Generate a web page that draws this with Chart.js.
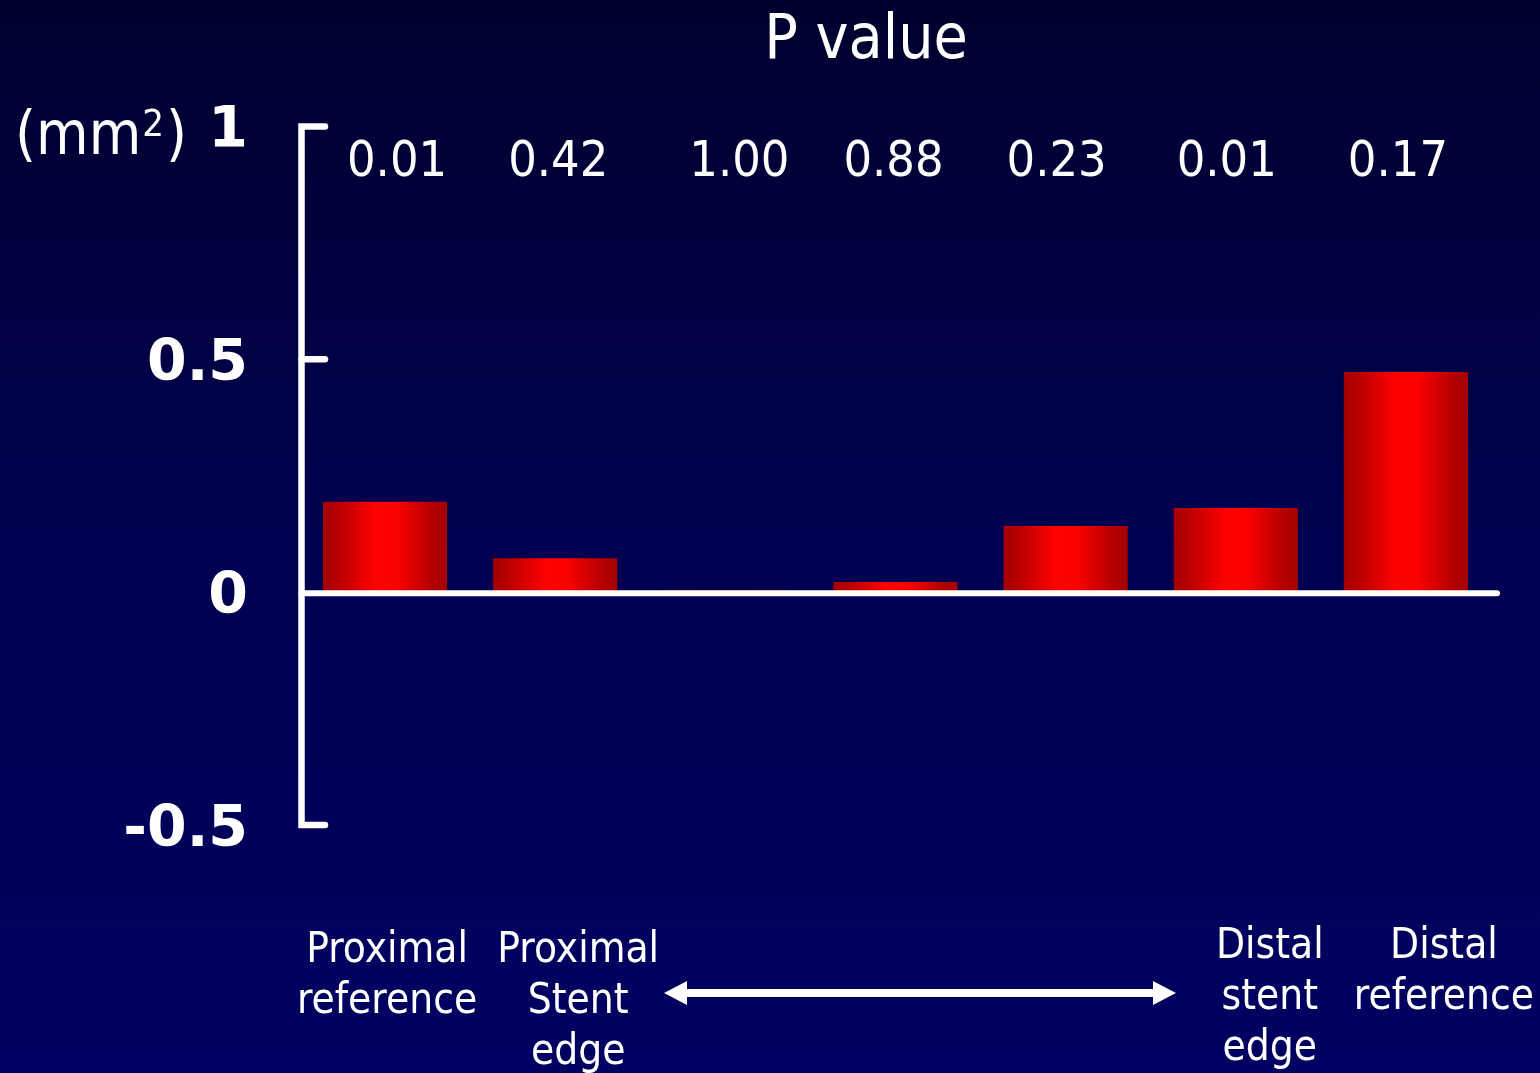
<!DOCTYPE html>
<html>
<head>
<meta charset="utf-8">
<title>Change in area by segment</title>
<script src="https://cdn.jsdelivr.net/npm/chart.js@4.4.1/dist/chart.umd.min.js"></script>
<style>
  html, body { margin: 0; padding: 0; background: #000040; }
  #wrap { width: 1540px; height: 1073px; position: relative; }
</style>
</head>
<body>
<div id="wrap"><canvas id="chart" width="1540" height="1073"></canvas></div>
<script>
// Segments along the vessel
const categories = [
  ['Proximal', 'reference'],
  ['Proximal', 'Stent', 'edge'],
  [],
  [],
  [],
  ['Distal', 'stent', 'edge'],
  ['Distal', 'reference']
];
// Change in area (mm²) per segment
const areaChange = [0.194, 0.073, 0.004, 0.022, 0.142, 0.181, 0.473];
// P value shown above each segment
const pValues = ['0.01', '0.42', '1.00', '0.88', '0.23', '0.01', '0.17'];
// Y axis ticks
const yTicks = [-0.5, 0, 0.5, 1];

// Layout tweaks (horizontal nudges of the text relative to the category centre)
const pValueNudge = [12, 3, 14, -2, -9, -9, -8];
const labelNudge = [2, 23, 0, 0, 0, 34, 38];

const SANS = "'DejaVu Sans Condensed', 'DejaVu Sans', sans-serif";
const BOLD = "'DejaVu Sans', Verdana, sans-serif";
const BAR_FRACTION = 0.73;

function barGradient(ctx) {
  const chart = ctx.chart;
  const xs = chart.scales && chart.scales.x;
  if (ctx.type !== 'data' || !xs || !xs.width) return '#e00000';
  const cx = xs.getPixelForValue(ctx.dataIndex);
  const half = (xs.width / categories.length) * BAR_FRACTION / 2;
  const g = chart.ctx.createLinearGradient(cx - half, 0, cx + half, 0);
  g.addColorStop(0, '#a40000');
  g.addColorStop(0.12, '#b80000');
  g.addColorStop(0.42, '#ff0000');
  g.addColorStop(0.6, '#fa0000');
  g.addColorStop(0.88, '#b40000');
  g.addColorStop(1, '#a40000');
  return g;
}

const decorations = {
  id: 'decorations',
  beforeDraw(chart) {
    const { ctx, width, height } = chart;
    const bg = ctx.createLinearGradient(0, 0, 0, height);
    bg.addColorStop(0, '#00002e');
    bg.addColorStop(0.5, '#000050');
    bg.addColorStop(1, '#000062');
    ctx.save();
    ctx.fillStyle = bg;
    ctx.fillRect(0, 0, width, height);
    ctx.restore();
  },
  afterDatasetsDraw(chart) {
    const { ctx } = chart;
    const xs = chart.scales.x;
    const ys = chart.scales.y;
    const axisX = chart.chartArea.left + 1.5;
    const tickEnd = axisX + 23.5;
    const yTop = ys.getPixelForValue(1);
    const yMid = ys.getPixelForValue(0.5);
    const yZero = ys.getPixelForValue(0);
    const yBot = ys.getPixelForValue(-0.5);

    ctx.save();
    ctx.strokeStyle = '#ffffff';
    ctx.fillStyle = '#ffffff';
    ctx.lineWidth = 6.5;
    ctx.lineJoin = 'miter';
    ctx.lineCap = 'round';

    // Y axis bracket with end ticks
    ctx.beginPath();
    ctx.moveTo(tickEnd, yTop);
    ctx.lineTo(axisX, yTop);
    ctx.lineTo(axisX, yBot);
    ctx.lineTo(tickEnd, yBot);
    ctx.stroke();
    // middle tick
    ctx.beginPath();
    ctx.moveTo(axisX, yMid);
    ctx.lineTo(tickEnd, yMid);
    ctx.stroke();
    // zero line
    ctx.lineWidth = 6;
    ctx.beginPath();
    ctx.moveTo(axisX, yZero + 1);
    ctx.lineTo(chart.chartArea.right + 6, yZero + 1);
    ctx.stroke();

    // Title
    ctx.textAlign = 'center';
    ctx.textBaseline = 'alphabetic';
    ctx.font = '62px ' + SANS;
    ctx.fillText('P value', 866, 58);

    // Unit label (mm²)
    ctx.textAlign = 'left';
    let ux = 15;
    const ub = 154;
    ctx.font = '60px ' + SANS;
    ctx.fillText('(mm', ux, ub);
    ux += ctx.measureText('(mm').width + 1;
    ctx.font = '38px ' + SANS;
    ctx.fillText('2', ux, ub - 18);
    ux += ctx.measureText('2').width + 2;
    ctx.font = '60px ' + SANS;
    ctx.fillText(')', ux, ub);

    // P values
    ctx.textAlign = 'center';
    ctx.font = '50px ' + SANS;
    pValues.forEach((p, i) => {
      ctx.fillText(p, xs.getPixelForValue(i) + pValueNudge[i], 176);
    });

    // Segment labels
    ctx.font = '42px ' + SANS;
    categories.forEach((lines, i) => {
      const cx = xs.getPixelForValue(i) + labelNudge[i];
      const base = i < 3 ? 962 : 958;
      lines.forEach((t, k) => ctx.fillText(t, cx, base + k * 51));
    });

    // Double-headed arrow spanning the stented segment
    const ay = 993;
    const left = 664, right = 1176, head = 23, halfH = 12;
    ctx.fillRect(left + head - 1, ay - 4, (right - head) - (left + head) + 2, 8);
    ctx.beginPath();
    ctx.moveTo(left, ay);
    ctx.lineTo(left + head, ay - halfH);
    ctx.lineTo(left + head, ay + halfH);
    ctx.closePath();
    ctx.fill();
    ctx.beginPath();
    ctx.moveTo(right, ay);
    ctx.lineTo(right - head, ay - halfH);
    ctx.lineTo(right - head, ay + halfH);
    ctx.closePath();
    ctx.fill();
    ctx.restore();
  }
};

new Chart(document.getElementById('chart'), {
  type: 'bar',
  data: {
    labels: categories,
    datasets: [{
      data: areaChange,
      backgroundColor: barGradient,
      borderWidth: 0,
      barPercentage: BAR_FRACTION,
      categoryPercentage: 1
    }]
  },
  options: {
    responsive: false,
    animation: false,
    events: [],
    layout: { padding: { top: 126.5, bottom: 248, left: 0, right: 49 } },
    plugins: { legend: { display: false }, tooltip: { enabled: false }, title: { display: false } },
    scales: {
      x: { display: false, offset: true },
      y: {
        min: -0.5,
        max: 1,
        afterFit(scale) { scale.width = 300; },
        afterBuildTicks(scale) { scale.ticks = yTicks.map(v => ({ value: v })); },
        grid: { display: false, drawTicks: false },
        border: { display: false },
        ticks: {
          color: '#ffffff',
          padding: 52,
          labelOffset: 6,
          font: { family: BOLD, size: 57, weight: 'bold' },
          callback: (v) => String(v)
        }
      }
    }
  },
  plugins: [decorations]
});
</script>
</body>
</html>
